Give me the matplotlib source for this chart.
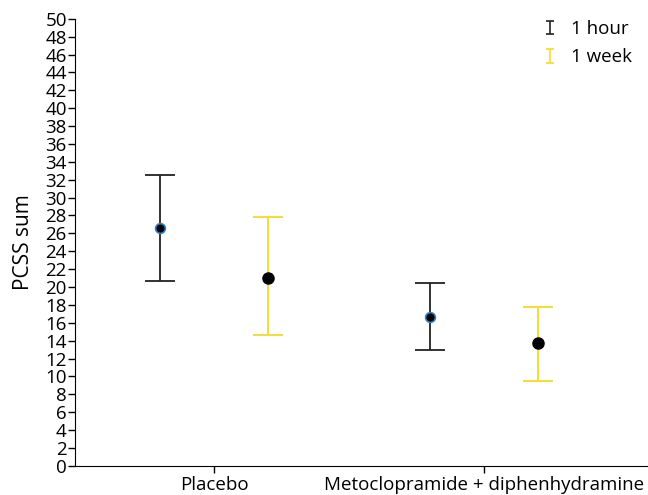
import matplotlib.pyplot as plt
from matplotlib.legend_handler import HandlerErrorbar
import numpy as np

plt.rcParams['font.family'] = ['Open Sans', 'DejaVu Sans']

groups = ['Placebo', 'Metoclopramide + diphenhydramine']
hour_mean = [26.6, 16.7]
hour_low = [20.7, 12.9]
hour_high = [32.5, 20.5]
week_mean = [21.0, 13.7]
week_low = [14.6, 9.5]
week_high = [27.8, 17.8]

yellow = '#f2dc24'
dark = '#222222'
x = np.arange(len(groups))
off = 0.2

fig, ax = plt.subplots(figsize=(6.48, 4.95), dpi=100)
fig.subplots_adjust(left=0.116, right=1.0, top=0.962, bottom=0.059)

hm = np.array(hour_mean)
wm = np.array(week_mean)
ax.errorbar(x - off, hm, yerr=[hm - hour_low, np.array(hour_high) - hm],
            fmt='none', ecolor=dark, elinewidth=1.3, capsize=11,
            capthick=1.3)
ax.errorbar(x + off, wm, yerr=[wm - week_low, np.array(week_high) - wm],
            fmt='none', ecolor=yellow, elinewidth=1.3, capsize=11,
            capthick=1.3)
ax.plot(x - off, hm, 'o', color='black', markersize=7,
        markeredgecolor='#2f7fc1', markeredgewidth=1.2, zorder=5)
ax.plot(x + off, wm, 'o', color='black', markersize=8, zorder=5)

# small proxies for the legend icons
h1 = ax.errorbar([np.nan], [np.nan], yerr=[[1], [1]], fmt='none', ecolor=dark,
                 elinewidth=1.2, capsize=3, capthick=1.2, label='1 hour')
h2 = ax.errorbar([np.nan], [np.nan], yerr=[[1], [1]], fmt='none', ecolor=yellow,
                 elinewidth=1.2, capsize=3, capthick=1.2, label='1 week')

ax.set_xlim(-0.515, 1.607)
ax.set_ylim(0, 50)
ax.set_yticks(range(0, 51, 2))
ax.set_xticks(x)
ax.set_xticklabels(groups)
ax.set_ylabel('PCSS sum', fontsize=15, labelpad=8)
ax.tick_params(labelsize=13.5, length=5, width=1, pad=2)
ax.tick_params(axis='y', pad=1)
ax.spines['top'].set_visible(False)
ax.spines['right'].set_visible(False)

hmap = {h1: HandlerErrorbar(yerr_size=0.36), h2: HandlerErrorbar(yerr_size=0.36)}
leg = ax.legend(handles=[h1, h2], handler_map=hmap, loc='upper right',
                frameon=False, fontsize=13.5, handlelength=0.6,
                handletextpad=0.8, borderaxespad=0.0, labelspacing=0.55,
                bbox_to_anchor=(0.985, 1.014))

fig.savefig('out.png')
